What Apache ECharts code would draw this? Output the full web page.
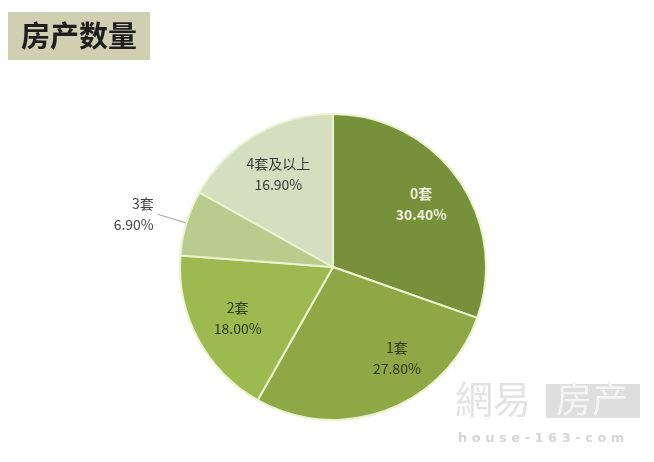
<!DOCTYPE html>
<html><head><meta charset="utf-8">
<script src="https://cdn.jsdelivr.net/npm/echarts@6/dist/echarts.min.js"></script>
<style>html,body{margin:0;padding:0;background:#fff}#c{width:654px;height:462px}</style>
</head><body><div id="c"></div>
<script>
const categories = ['0套', '1套', '2套', '3套', '4套及以上'];
const values = [30.4, 27.8, 18.0, 6.9, 16.9];
const sliceColors = ['#77913a', '#8ea845', '#9cba50', '#b9cc8d', '#d5dfc0'];
const labelColors = ['#eef3e0', '#2f3a1a', '#2f3a1a', '#444', '#3a3a3a'];
const titleText = '房产数量';

const center = [333, 267];
const R = 153;

const baseData = categories.map((c, i) => ({ name: c, value: values[i], itemStyle: { color: sliceColors[i] } }));
const labelData = categories.map((c, i) => {
  const outside = c === '3套';
  const lbl = outside
    ? { position: 'outside', color: labelColors[i], distanceToLabelLine: 4 }
    : { position: 'inside', color: labelColors[i] };
  if (i === 0) lbl.fontWeight = 'bold';
  if (c === '1套') lbl.offset = [26, -10];
  return {
    name: c, value: values[i], label: lbl,
    labelLine: { show: outside, length: 30, length2: 0, lineStyle: { color: '#a0a0a0', width: 1 } }
  };
});

const chart = echarts.init(document.getElementById('c'));
chart.setOption({
  backgroundColor: '#fff',
  animation: false,
  title: {
    text: titleText, left: 8, top: 12,
    backgroundColor: '#cfcfb2', padding: [9, 13],
    textStyle: { fontSize: 29, fontWeight: 'bold', color: '#1e1e1e', lineHeight: 30, fontFamily: 'Noto Sans CJK SC' }
  },
  graphic: [
    { type: 'text', left: 455, top: 380, style: { text: '網易', fontSize: 38, fill: '#e3e3e3', fontFamily: 'Noto Sans CJK TC' } },
    { type: 'rect', left: 546, top: 384, shape: { width: 94, height: 34 }, style: { fill: '#dedede' } },
    { type: 'text', left: 556, top: 381, style: { text: '房产', fontSize: 36, fill: '#f4f4f4', fontFamily: 'Noto Sans CJK SC' } },
    { type: 'text', left: 458, top: 432, style: { text: 'h o u s e - 1 6 3 - c o m', fontSize: 13, fill: '#d6d6d6', fontFamily: 'DejaVu Sans', fontWeight: 'bold' } }
  ],
  series: [
    {
      type: 'pie', center: center, radius: [0, R], startAngle: 90, clockwise: true,
      silent: true, label: { show: false }, labelLine: { show: false },
      itemStyle: { borderColor: '#eaf5cf', borderWidth: 2 },
      data: baseData
    },
    {
      type: 'pie', center: center, radius: [57, R], startAngle: 90, clockwise: true,
      silent: true,
      itemStyle: { color: 'rgba(0,0,0,0)', borderWidth: 0 },
      label: { show: true, formatter: p => p.name + '\n' + p.value.toFixed(2) + '%', fontSize: 14, lineHeight: 21, fontFamily: 'Noto Sans CJK SC' },
      emphasis: { disabled: true },
      data: labelData
    }
  ]
});
</script></body></html>
